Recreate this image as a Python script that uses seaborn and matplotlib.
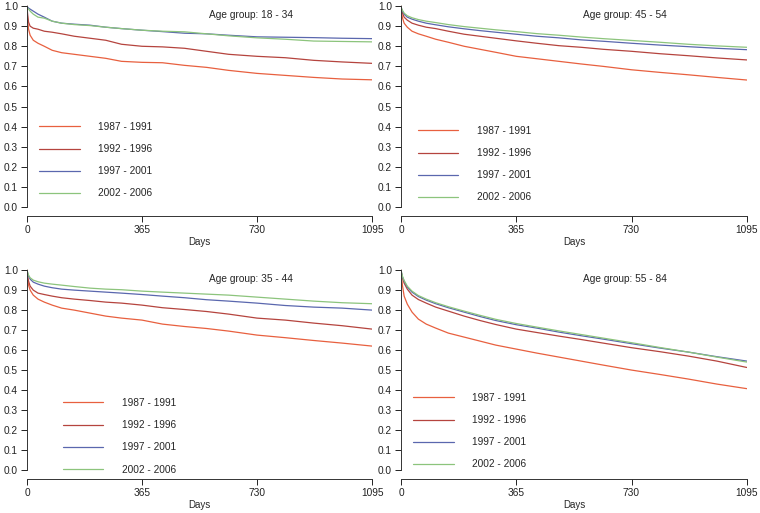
import pandas as pd
import seaborn as sns
import matplotlib
matplotlib.use("Agg")
import matplotlib.pyplot as plt

days = [0, 2, 5, 10, 20, 35, 55, 80, 110, 150, 200, 250, 300, 365,
        430, 500, 570, 640, 730, 820, 910, 1000, 1095]

periods = ["1987 - 1991", "1992 - 1996", "1997 - 2001", "2002 - 2006"]
colors = ["#E8603F", "#B5443E", "#5A67AE", "#8CC47C"]

# age group 18 - 34
g18_p1 = [1.0, 0.93, 0.885, 0.855, 0.83, 0.815, 0.80, 0.78, 0.768, 0.76, 0.75, 0.74,
          0.725, 0.72, 0.718, 0.705, 0.695, 0.68, 0.665, 0.655, 0.645, 0.637, 0.633]
g18_p2 = [1.0, 0.96, 0.92, 0.90, 0.89, 0.885, 0.875, 0.87, 0.862, 0.85, 0.84, 0.83,
          0.81, 0.80, 0.797, 0.79, 0.775, 0.76, 0.75, 0.743, 0.73, 0.722, 0.715]
g18_p3 = [1.0, 0.995, 0.99, 0.985, 0.975, 0.96, 0.945, 0.925, 0.915, 0.91, 0.905, 0.895,
          0.888, 0.88, 0.873, 0.865, 0.862, 0.855, 0.847, 0.845, 0.843, 0.84, 0.838]
g18_p4 = [1.0, 0.99, 0.985, 0.975, 0.96, 0.945, 0.94, 0.925, 0.915, 0.908, 0.903, 0.895,
          0.888, 0.88, 0.875, 0.872, 0.862, 0.852, 0.842, 0.835, 0.826, 0.824, 0.822]

# age group 45 - 54
g45_p1 = [1.0, 0.965, 0.94, 0.915, 0.895, 0.875, 0.862, 0.85, 0.835, 0.82, 0.80, 0.785,
          0.77, 0.75, 0.738, 0.725, 0.712, 0.70, 0.683, 0.67, 0.658, 0.645, 0.632]
g45_p2 = [1.0, 0.98, 0.965, 0.945, 0.93, 0.915, 0.905, 0.895, 0.888, 0.875, 0.86, 0.85,
          0.84, 0.827, 0.815, 0.803, 0.795, 0.785, 0.775, 0.763, 0.753, 0.742, 0.732]
g45_p3 = [1.0, 0.985, 0.975, 0.96, 0.945, 0.935, 0.925, 0.915, 0.907, 0.897, 0.887, 0.878,
          0.87, 0.86, 0.85, 0.842, 0.832, 0.825, 0.815, 0.806, 0.798, 0.79, 0.783]
g45_p4 = [1.0, 0.988, 0.978, 0.965, 0.952, 0.942, 0.933, 0.925, 0.918, 0.908, 0.898, 0.89,
          0.882, 0.873, 0.863, 0.855, 0.846, 0.838, 0.829, 0.82, 0.81, 0.802, 0.795]

# age group 35 - 44
g35_p1 = [1.0, 0.955, 0.925, 0.90, 0.875, 0.855, 0.84, 0.825, 0.81, 0.80, 0.785, 0.77,
          0.76, 0.75, 0.73, 0.718, 0.708, 0.695, 0.675, 0.662, 0.648, 0.635, 0.62]
g35_p2 = [1.0, 0.97, 0.945, 0.92, 0.90, 0.885, 0.878, 0.87, 0.862, 0.855, 0.848, 0.84,
          0.835, 0.825, 0.812, 0.803, 0.793, 0.78, 0.76, 0.75, 0.735, 0.722, 0.705]
g35_p3 = [1.0, 0.985, 0.97, 0.955, 0.94, 0.93, 0.92, 0.912, 0.905, 0.90, 0.895, 0.89,
          0.885, 0.878, 0.87, 0.862, 0.852, 0.845, 0.835, 0.823, 0.815, 0.81, 0.80]
g35_p4 = [1.0, 0.99, 0.975, 0.962, 0.95, 0.942, 0.935, 0.93, 0.925, 0.918, 0.91, 0.905,
          0.902, 0.895, 0.89, 0.885, 0.88, 0.875, 0.865, 0.855, 0.845, 0.837, 0.832]

# age group 55 - 84
g55_p1 = [1.0, 0.96, 0.92, 0.87, 0.83, 0.79, 0.755, 0.73, 0.71, 0.685, 0.665, 0.645,
          0.625, 0.605, 0.585, 0.565, 0.545, 0.525, 0.50, 0.478, 0.455, 0.43, 0.407]
g55_p2 = [1.0, 0.98, 0.96, 0.935, 0.905, 0.875, 0.853, 0.835, 0.815, 0.795, 0.77, 0.748,
          0.728, 0.705, 0.688, 0.67, 0.653, 0.635, 0.612, 0.592, 0.57, 0.545, 0.513]
g55_p3 = [1.0, 0.985, 0.965, 0.945, 0.915, 0.89, 0.868, 0.85, 0.832, 0.812, 0.79, 0.768,
          0.748, 0.727, 0.71, 0.69, 0.672, 0.655, 0.632, 0.61, 0.59, 0.567, 0.545]
g55_p4 = [1.0, 0.987, 0.968, 0.948, 0.92, 0.895, 0.873, 0.855, 0.837, 0.817, 0.795, 0.774,
          0.754, 0.733, 0.715, 0.696, 0.678, 0.66, 0.637, 0.613, 0.59, 0.565, 0.54]

panels = [
    ("Age group: 18 - 34", [g18_p1, g18_p2, g18_p3, g18_p4], [0.0355, 0.579, 0.454, 0.413], (0.035, 0.444)),
    ("Age group: 45 - 54", [g45_p1, g45_p2, g45_p3, g45_p4], [0.5276, 0.579, 0.455, 0.413], (0.049, 0.425)),
    ("Age group: 35 - 44", [g35_p1, g35_p2, g35_p3, g35_p4], [0.0355, 0.0663, 0.454, 0.411], (0.104, 0.384)),
    ("Age group: 55 - 84", [g55_p1, g55_p2, g55_p3, g55_p4], [0.5276, 0.0663, 0.455, 0.411], (0.035, 0.408)),
]

sns.set_style("ticks")
plt.rcParams['font.family'] = ['Liberation Sans', 'DejaVu Sans']

fig = plt.figure(figsize=(7.6, 5.13), dpi=100)
palette = dict(zip(periods, colors))

for title, series, pos, leg_xy in panels:
    ax = fig.add_axes(pos)
    rows = []
    for p, vals in zip(periods, series):
        for d, v in zip(days, vals):
            rows.append({"Days": d, "Survival": v, "Period": p})
    df = pd.DataFrame(rows)
    sns.lineplot(data=df, x="Days", y="Survival", hue="Period", palette=palette,
                 linewidth=0.9, ax=ax, legend=False)
    ax.set_xlim(0, 1095)
    ax.set_ylim(-0.045, 1.01)
    ax.set_xticks([0, 365, 730, 1095])
    ax.set_yticks([i / 10 for i in range(11)])
    ax.set_yticklabels([f"{i / 10:.1f}" for i in range(11)])
    ax.tick_params(labelsize=7.3, length=4, width=0.7, pad=2.5, colors="#222222")
    ax.set_xlabel("Days", fontsize=7, labelpad=1.5)
    ax.set_ylabel("")
    for s in ["top", "right"]:
        ax.spines[s].set_visible(False)
    ax.spines["left"].set_bounds(0, 1)
    ax.spines["bottom"].set_bounds(0, 1095)
    for s in ["left", "bottom"]:
        ax.spines[s].set_linewidth(0.7)
        ax.spines[s].set_color("#333333")
    ax.text(0.527, 0.95, title, transform=ax.transAxes, fontsize=7.3, ha="left", va="center")
    handles = [plt.Line2D([], [], color=c, linewidth=0.9) for c in colors]
    ax.legend(handles, periods, loc="upper left", bbox_to_anchor=leg_xy, frameon=False,
              fontsize=7.3, handlelength=4.0, handletextpad=1.8, labelspacing=1.2,
              borderpad=0, borderaxespad=0)

fig.savefig("out.png", dpi=100)
